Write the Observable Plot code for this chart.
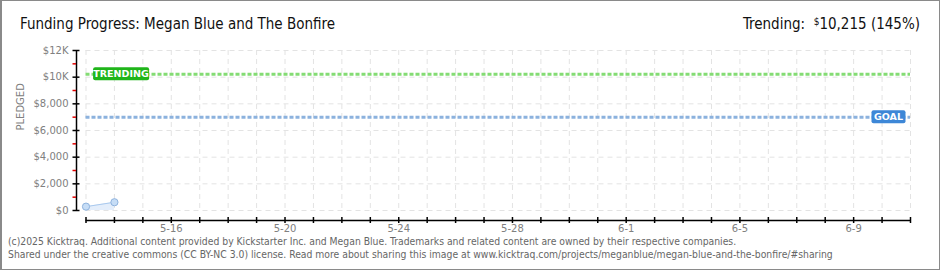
<!DOCTYPE html>
<html>
<head>
<meta charset="utf-8">
<script src="https://cdn.jsdelivr.net/npm/d3@7"></script>
<script src="https://cdn.jsdelivr.net/npm/@observablehq/plot@0.6"></script>
<style>
  html, body { margin: 0; padding: 0; background: #fff; }
  #wrap { position: relative; width: 940px; height: 270px; overflow: hidden; background: #fff; }
  #frame { position: absolute; left: 0; top: 0; width: 940px; height: 270px; box-sizing: border-box;
           border: 1px solid #8a8a8a; border-left-width: 2px; pointer-events: none; }
  #chart { position: absolute; left: 0; top: 0; }
  .title { position: absolute; top: 15px; font-family: "DejaVu Sans Condensed", "DejaVu Sans", sans-serif;
           font-size: 15px; color: #111; white-space: nowrap; }
  #title { left: 20px; }
  #trend { right: 20px; }
  #trend sup { font-size: 10px; vertical-align: 4px; }
  #footer { position: absolute; left: 8px; top: 235px; font-family: "DejaVu Sans Condensed", "DejaVu Sans", sans-serif;
            font-size: 10.3px; line-height: 13px; color: #666; white-space: nowrap; }
</style>
</head>
<body>
<div id="wrap">
  <div id="chart"></div>
  <div id="title" class="title">Funding Progress: Megan Blue and The Bonfire</div>
  <div id="trend" class="title">Trending:&nbsp; <sup>$</sup>10,215 (145%)</div>
  <div id="footer">(c)2025 Kicktraq. Additional content provided by Kickstarter Inc. and Megan Blue. Trademarks and related content are owned by their respective companies.<br>Shared under the creative commons (CC BY-NC 3.0) license. Read more about sharing this image at www.kicktraq.com/projects/meganblue/megan-blue-and-the-bonfire/#sharing</div>
  <div id="frame"></div>
</div>
<script>
// ---- data ----
const pledgeDates = ["2025-05-13", "2025-05-14"];
const pledgeValues = [290, 620];
const goal = 7000;
const trending = 10215;
const xStart = "2025-05-13";
const xEnd = "2025-06-11";
const xTickLabels = ["5-16", "5-20", "5-24", "5-28", "6-1", "6-5", "6-9"];
const yMajorTicks = [0, 2000, 4000, 6000, 8000, 10000, 12000];
const yMajorLabels = ["$0", "$2,000", "$4,000", "$6,000", "$8,000", "$10K", "$12K"];
const yMinorTicks = [1000, 3000, 5000, 7000, 9000, 11000];

// ---- build ----
const parse = s => new Date(s + "T00:00:00Z");
const start = parse(xStart), end = parse(xEnd);
const days = d3.utcDays(start, d3.utcDay.offset(end, 1));
const labelDates = xTickLabels.map(l => { const [m, d] = l.split("-").map(Number); return new Date(Date.UTC(2025, m - 1, d)); });
const fmtDay = d => `${d.getUTCMonth() + 1}-${d.getUTCDate()}`;
const data = pledgeDates.map((d, i) => ({date: parse(d), value: pledgeValues[i]}));
const yLabelOf = v => yMajorLabels[yMajorTicks.indexOf(v)];

const tickFont = {fontFamily: "DejaVu Sans, sans-serif", fontSize: 10};
const grid = "#e3e3e3";

const plot = Plot.plot({
  width: 940,
  height: 240,
  marginLeft: 85.5,
  marginRight: 30,
  marginTop: 50,
  marginBottom: 30,
  style: {background: "transparent", fontFamily: "DejaVu Sans, sans-serif", fontSize: "10px", color: "#808080"},
  x: {type: "utc", domain: [start, end], axis: null, label: null},
  y: {domain: [0, 12000], axis: null, label: null},
  marks: [
    Plot.ruleX(days, {stroke: grid, strokeDasharray: "5,4"}),
    Plot.ruleY(yMajorTicks, {stroke: grid, strokeDasharray: "5,4"}),
    Plot.areaY(data, {x: "date", y: "value", fill: "#e4eefb"}),
    Plot.line(data, {x: "date", y: "value", stroke: "#a9c9ee", strokeWidth: 1}),
    Plot.ruleY([trending], {stroke: "#84dc74", strokeWidth: 3, strokeDasharray: "4,2"}),
    Plot.ruleY([goal], {stroke: "#8cb2de", strokeWidth: 3, strokeDasharray: "4,2"}),
    Plot.dot(data, {x: "date", y: "value", r: 3.6, fill: "#c6ddf6", stroke: "#8fb3de", strokeWidth: 1}),
    // y axis
    Plot.ruleX([start], {dx: -9.5, stroke: "#000", strokeWidth: 1.5}),
    Plot.axisY({ticks: yMajorTicks, tickSize: 7, dx: -6, tickPadding: 4.5, stroke: "#000", strokeWidth: 1.5,
                tickFormat: yLabelOf, fill: "#808080", label: null, ...tickFont}),
    Plot.axisY({ticks: yMinorTicks, tickSize: 3.5, dx: -9.5, stroke: "#e00000", strokeWidth: 1.5,
                tickFormat: () => "", label: null}),
    Plot.text(["PLEDGED"], {frameAnchor: "left", dx: -65, rotate: -90, fill: "#808080",
                            fontFamily: "DejaVu Sans, sans-serif", fontSize: 10, letterSpacing: "2px"}),
    // x axis
    Plot.ruleY([0], {dy: 10, stroke: "#000", strokeWidth: 1.5}),
    Plot.axisX({ticks: days, tickSize: 6, dy: 7, stroke: "#000", strokeWidth: 1.5, tickFormat: () => "", label: null}),
    Plot.axisX({ticks: labelDates, tickSize: 0, tickPadding: 14, tickFormat: fmtDay, fill: "#808080", label: null, ...tickFont}),
    // labels on reference lines
    Plot.text(["TRENDING"], {x: () => start, y: () => trending, dx: 35, textAnchor: "middle", className: "reflabel-green",
                             fill: "#fff", fontWeight: "bold", fontSize: 9.5, fontFamily: "DejaVu Sans, sans-serif"}),
    Plot.text(["GOAL"], {x: () => end, y: () => goal, dx: -22, textAnchor: "middle", className: "reflabel-blue",
                         fill: "#fff", fontWeight: "bold", fontSize: 9.5, fontFamily: "DejaVu Sans, sans-serif"})
  ]
});
document.getElementById("chart").appendChild(plot);

// background boxes behind reference-line labels
for (const [cls, color, w] of [["reflabel-green", "#1fb51a", 56], ["reflabel-blue", "#3d87d7", 34]]) {
  d3.select(plot).selectAll(`g.${cls} text`).each(function() {
    const bb = this.getBBox();
    const cx = bb.x + bb.width / 2, cy = bb.y + bb.height / 2;
    d3.select(this.parentNode).insert("rect", () => this)
      .attr("transform", this.getAttribute("transform"))
      .attr("x", cx - w / 2).attr("y", cy - 6.5).attr("width", w).attr("height", 13)
      .attr("rx", 2).attr("fill", color);
  });
}
</script>
</body>
</html>
